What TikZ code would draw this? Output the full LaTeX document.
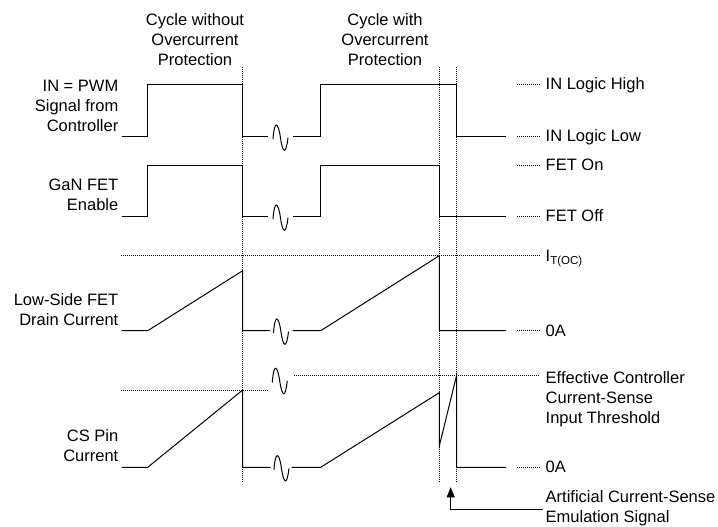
\documentclass[tikz,border=0pt]{standalone}
\usepackage{fontspec}
\setmainfont{Liberation Sans}
\usetikzlibrary{arrows.meta}
\begin{document}
\begin{tikzpicture}[x=1pt,y=-1pt,
  wave/.style={line width=1pt,line join=miter},
  dotln/.style={line width=1pt,dash pattern=on 1pt off 1pt},
  lbl/.style={inner sep=0pt,font=\fontsize{16.5}{20}\selectfont},
  brk/.pic={\draw[line width=1pt] (0,2.5) .. controls (1.2,-16) and (4.8,-16) .. (7.3,0) .. controls (9.8,18) and (13,18) .. (15,1);}
]
\useasboundingbox (0,0) rectangle (718,527);

% titles
\node[lbl,align=center,anchor=north] (title1) at (195,13.5) {Cycle without\\Overcurrent\\Protection};
\node[lbl,align=center,anchor=north] (title2) at (385,13.5) {Cycle with\\Overcurrent\\Protection};

% left labels
\node[lbl,align=right,anchor=north east] (lblin) at (118.5,80) {IN = PWM\\Signal from\\Controller};
\node[lbl,align=right,anchor=north east] (lblgan) at (118.5,179) {GaN FET\\Enable};
\node[lbl,align=right,anchor=north east] (lbldrain) at (118.5,293.2) {Low-Side FET\\Drain Current};
\node[lbl,align=right,anchor=north east] (lblcs) at (118.5,429.2) {CS Pin\\Current};

% vertical dotted markers
\coordinate (v1t) at (242.7,67); \coordinate (v1b) at (242.7,483);
\coordinate (v2t) at (439.3,67); \coordinate (v2b) at (439.3,483);
\coordinate (v3t) at (456.7,67); \coordinate (v3b) at (456.7,483);
\draw[dotln] (v1t) -- (v1b);
\draw[dotln] (v2t) -- (v2b);
\draw[dotln] (v3t) -- (v3b);

% row 1: IN
\draw[wave] (121.7,136.7) -- (147.7,136.7) -- (147.7,85) -- (242.7,85) -- (242.7,136.7) -- (268.3,136.7);
\pic at (273,136.7) {brk};
\draw[wave] (293.3,136.7) -- (320.7,136.7) -- (320.7,85) -- (456.7,85) -- (456.7,136.7) -- (506,136.7);

% row 2: GaN FET enable
\draw[wave] (121.7,216.7) -- (147.7,216.7) -- (147.7,165.5) -- (242.7,165.5) -- (242.7,216.7) -- (268.3,216.7);
\pic at (273,216.7) {brk};
\draw[wave] (293.3,216.7) -- (320.7,216.7) -- (320.7,165.5) -- (439.3,165.5) -- (439.3,216.7) -- (506,216.7);

% row 3: drain current
\draw[dotln] (121,255.7) -- (540,255.7);
\draw[wave] (121.7,330.7) -- (147.7,330.7) -- (242.7,270.7) -- (242.7,330.7) -- (270,330.7);
\pic at (273.5,330.7) {brk};
\draw[wave] (292.7,330.7) -- (320.7,330.7) -- (439.3,255.7) -- (439.3,330.7) -- (506,330.7);

% row 4: CS pin current
\draw[dotln] (121,390) -- (267.3,390);
\pic at (272.3,380) {brk};
\draw[dotln] (294,375) -- (540,375);
\draw[wave] (121.7,467.3) -- (147.7,467.3) -- (242.7,390) -- (242.7,467.3) -- (270.7,467.3);
\pic at (274,467.3) {brk};
\draw[wave] (291.7,467.3) -- (320.7,467.3) -- (439.3,392.7) -- (439.3,446) -- (456.7,375) -- (456.7,467.3) -- (506,467.3);

% right-hand level labels
\foreach \yy in {85,136.7,165.5,216.7,330.7,467.3} {\draw[dotln] (516.7,\yy) -- (540,\yy);}
\node[lbl,anchor=base west] (rhigh) at (545.5,90) {IN Logic High};
\node[lbl,anchor=base west] (rlow) at (545.5,141.7) {IN Logic Low};
\node[lbl,anchor=base west] (fon) at (545.5,170.5) {FET On};
\node[lbl,anchor=base west] (foff) at (545.5,221.7) {FET Off};
\node[lbl,anchor=base west] (itoc) at (545.5,261.3) {I\raisebox{-3pt}{\fontsize{11.5}{12}\selectfont T(OC)}};
\node[lbl,anchor=base west] (za1) at (545.5,336.5) {0A};
\node[lbl,align=left,anchor=north west] (thr) at (545.5,371) {Effective Controller\\Current-Sense\\Input Threshold};
\node[lbl,anchor=base west] (za2) at (545.5,472.8) {0A};
\node[lbl,align=left,anchor=north west] (art) at (545.5,490.2) {Artificial Current-Sense\\Emulation Signal};

% arrow to the emulation pulse
\coordinate (tip) at (450.7,487.3);
\coordinate (artin) at (543,509.3);
\draw[line width=1pt,-{Triangle[length=10pt,width=8pt]}] (artin) -| (tip);
\end{tikzpicture}
\end{document}
